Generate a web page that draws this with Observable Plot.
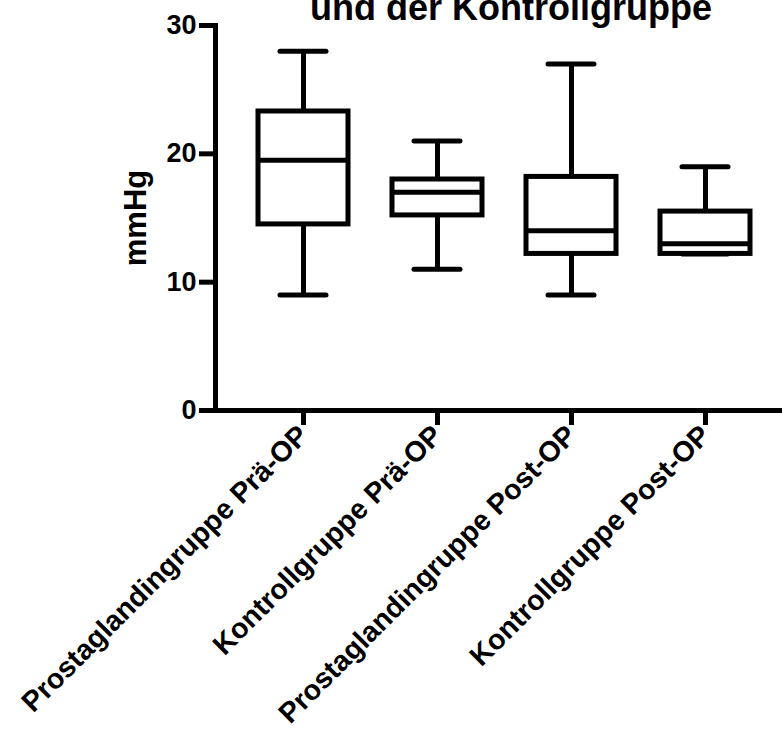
<!DOCTYPE html>
<html>
<head>
<meta charset="utf-8">
<script src="https://cdn.jsdelivr.net/npm/d3@7"></script>
<script src="https://cdn.jsdelivr.net/npm/@observablehq/plot@0.6"></script>
<style>
  html, body { margin: 0; padding: 0; background: white; }
  #chart { width: 782px; height: 740px; overflow: hidden; }
</style>
</head>
<body>
<div id="chart"></div>
<script>
// Data (mmHg)
const groups  = ["Prostaglandingruppe Prä-OP", "Kontrollgruppe Prä-OP", "Prostaglandingruppe Post-OP", "Kontrollgruppe Post-OP"];
const minVals = [9, 11, 9, 12.2];
const q1Vals  = [14.5, 15.2, 12.2, 12.2];
const medVals = [19.5, 17, 14, 13];
const q3Vals  = [23.3, 18.0, 18.2, 15.5];
const maxVals = [28, 21, 27, 19];
const yTicks  = [0, 10, 20, 30];
const title   = "und der Kontrollgruppe";
const yLabel  = "mmHg";

const data = groups.map((g, i) => ({
  group: g, min: minVals[i], q1: q1Vals[i], median: medVals[i], q3: q3Vals[i], max: maxVals[i]
}));

const FONT = "Liberation Sans, Arial, sans-serif";

const chart = Plot.plot({
  width: 782,
  height: 740,
  marginLeft: 215,
  marginRight: 0,
  marginTop: 25,
  marginBottom: 330,
  style: { fontFamily: FONT, fontWeight: "bold", color: "black", background: "white", overflow: "hidden" },
  x: { domain: groups, padding: 0.33, paddingOuter: 0.28, align: 0.573, label: null },
  y: { domain: [0, 30], label: null },
  marks: [
    // whiskers
    Plot.ruleX(data, { x: "group", y1: "min", y2: "q1", stroke: "black", strokeWidth: 5 }),
    Plot.ruleX(data, { x: "group", y1: "q3", y2: "max", stroke: "black", strokeWidth: 5 }),
    // whisker caps
    Plot.tickY(data, { x: "group", y: "min", inset: 22, stroke: "black", strokeWidth: 5, strokeLinecap: "round" }),
    Plot.tickY(data, { x: "group", y: "max", inset: 22, stroke: "black", strokeWidth: 5, strokeLinecap: "round" }),
    // boxes
    Plot.barY(data, { x: "group", y1: "q1", y2: "q3", fill: "white", stroke: "black", strokeWidth: 5 }),
    // medians
    Plot.tickY(data, { x: "group", y: "median", stroke: "black", strokeWidth: 5 }),
    // axis lines
    Plot.frame({ anchor: "left", stroke: "black", strokeWidth: 5, strokeLinecap: "square" }),
    Plot.frame({ anchor: "bottom", stroke: "black", strokeWidth: 5, strokeLinecap: "square" }),
    // axes
    Plot.axisY({ ticks: yTicks, tickSize: 16, tickPadding: 3, strokeWidth: 5, fontSize: 27, fontWeight: "bold", fill: "black", label: null }),
    Plot.axisX({ tickSize: 15, tickPadding: 5, tickRotate: -45, strokeWidth: 5, fontSize: 28.5, fontWeight: "bold", fill: "black", label: null }),
    // y label
    Plot.text([yLabel], { frameAnchor: "left", textAnchor: "middle", lineAnchor: "middle", rotate: -90, dx: -79, fontSize: 31, fontWeight: "bold", fill: "black" }),
    // title (top line cut off, as in reference)
    Plot.text([title], { frameAnchor: "top", textAnchor: "middle", lineAnchor: "bottom", dy: -6, dx: 12, fontSize: 36, fontWeight: "bold", fill: "black" })
  ]
});
document.getElementById("chart").appendChild(chart);
</script>
</body>
</html>
